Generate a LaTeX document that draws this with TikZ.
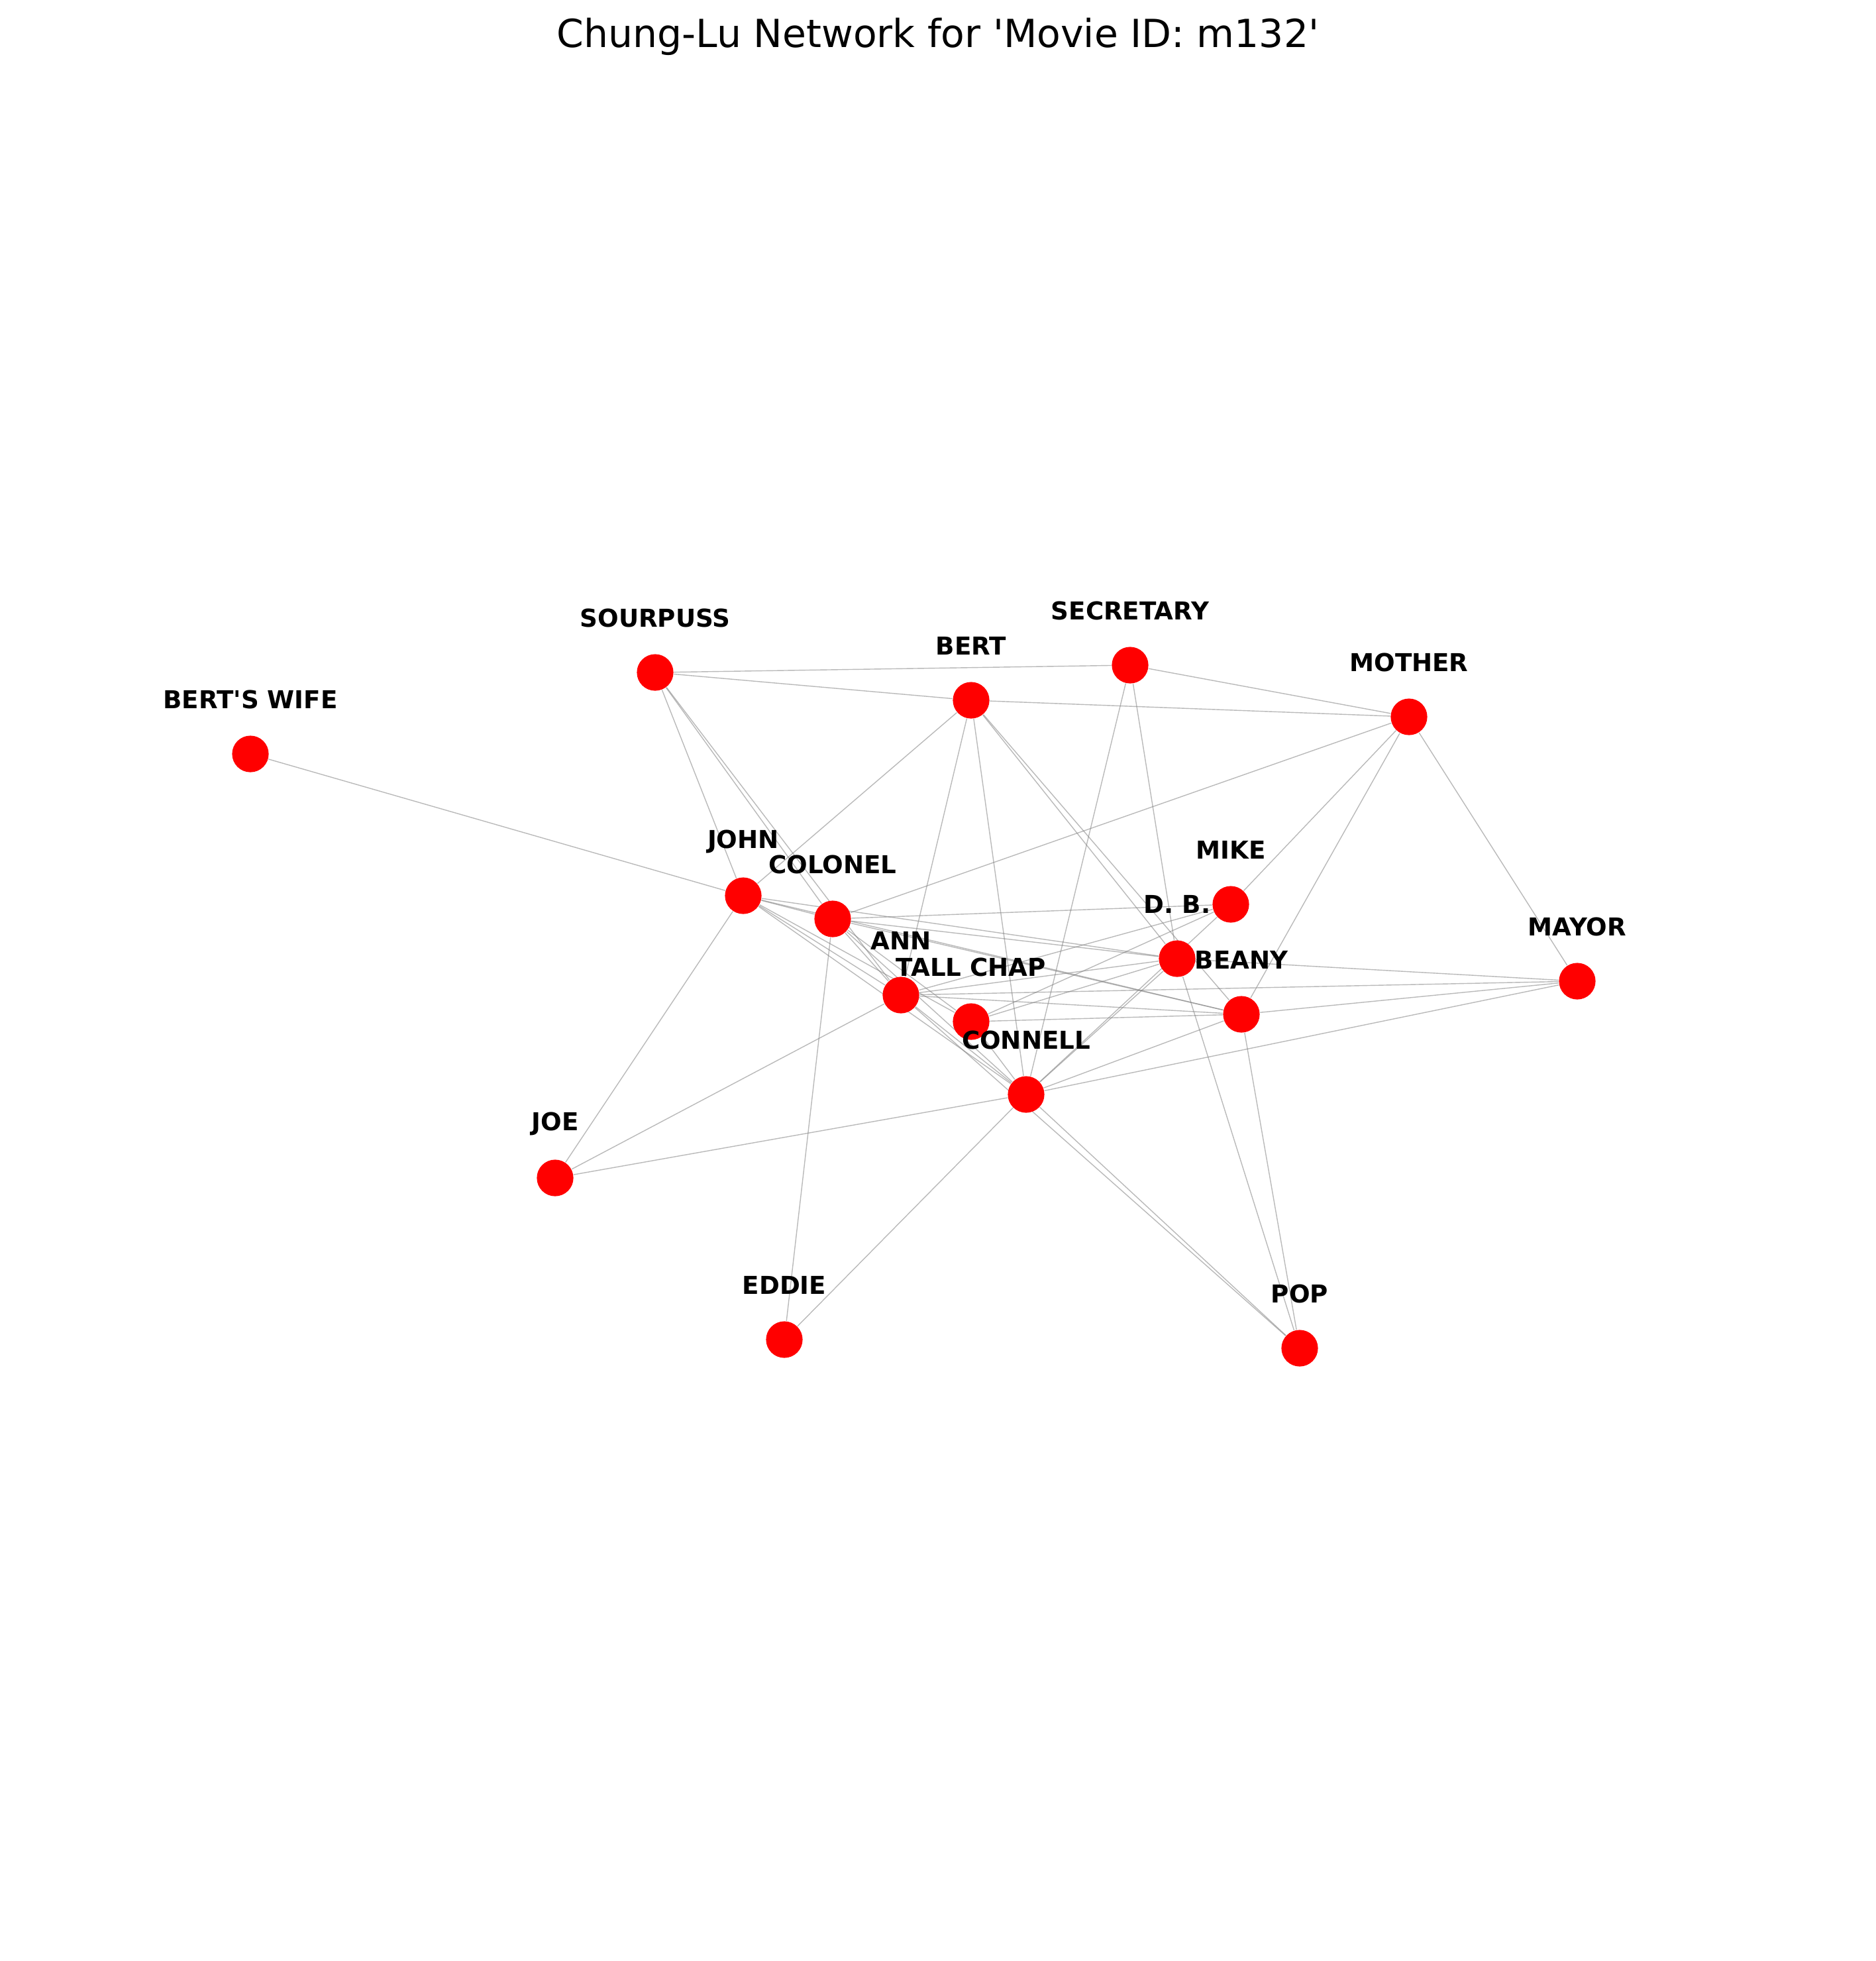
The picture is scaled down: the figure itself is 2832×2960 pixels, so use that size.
\documentclass[tikz,border=0pt]{standalone}
\usepackage{fontspec}
\setmainfont{DejaVu Sans}
\usetikzlibrary{backgrounds}

\begin{document}
\begin{tikzpicture}[x=0.25pt, y=-0.25pt,
        every node/.style={inner sep=0pt},
        actor/.style={circle, fill=red, minimum size=13.8pt},
        tag/.style={font=\fontsize{9.3}{11}\selectfont\bfseries, yshift=20.5pt},
        link/.style={draw=gray, opacity=0.55, line width=0.35pt}]
                \useasboundingbox (0,0) rectangle (2832,2960);

                % Title
                \node[font=\fontsize{14.6}{17}\selectfont] at (1416, 55) (title)
                    {Chung-Lu Network for \textquotesingle Movie ID: m132\textquotesingle};

                % Nodes
                \node[actor] at (378, 1138) (bw) {};
                \node[actor] at (989, 1015) (sour) {};
                \node[actor] at (1466, 1057) (bert) {};
                \node[actor] at (1706, 1004) (sec) {};
                \node[actor] at (2127, 1082) (mother) {};
                \node[actor] at (1122, 1352) (john) {};
                \node[actor] at (1257, 1387) (col) {};
                \node[actor] at (1858, 1365) (mike) {};
                \node[actor] at (1777, 1447) (db) {};
                \node[actor] at (2381, 1481) (mayor) {};
                \node[actor] at (1360, 1502) (ann) {};
                \node[actor] at (1466, 1542) (tc) {};
                \node[actor] at (1874, 1531) (beany) {};
                \node[actor] at (1549, 1652) (con) {};
                \node[actor] at (838, 1778) (joe) {};
                \node[actor] at (1184, 2022) (eddie) {};
                \node[actor] at (1962, 2035) (pop) {};

                % Edges
                \begin{scope}[on background layer]
                \draw[link] (sour) -- (sec);
                \draw[link] (sour) -- (bert);
                \draw[link] (sec) -- (mother);
                \draw[link] (bert) -- (mother);
                \draw[link] (sour) -- (john);
                \draw[link] (sour) -- (col);
                \draw[link] (sour) -- (ann);
                \draw[link] (bert) -- (john);
                \draw[link] (bert) -- (ann);
                \draw[link] (bert) -- (con);
                \draw[link] (bert) -- (db);
                \draw[link] (bert) -- (beany);
                \draw[link] (sec) -- (con);
                \draw[link] (sec) -- (db);
                \draw[link] (mother) -- (col);
                \draw[link] (mother) -- (mike);
                \draw[link] (mother) -- (beany);
                \draw[link] (mother) -- (mayor);
                \draw[link] (bw) -- (john);
                \draw[link] (john) -- (joe);
                \draw[link] (john) -- (col);
                \draw[link] (john) -- (db);
                \draw[link] (john) -- (beany);
                \draw[link] (john) -- (ann);
                \draw[link] (john) -- (tc);
                \draw[link] (john) -- (con);
                \draw[link] (col) -- (mike);
                \draw[link] (col) -- (db);
                \draw[link] (col) -- (beany);
                \draw[link] (col) -- (eddie);
                \draw[link] (col) -- (ann);
                \draw[link] (col) -- (tc);
                \draw[link] (col) -- (con);
                \draw[link] (ann) -- (mayor);
                \draw[link] (ann) -- (beany);
                \draw[link] (ann) -- (db);
                \draw[link] (ann) -- (mike);
                \draw[link] (ann) -- (joe);
                \draw[link] (ann) -- (con);
                \draw[link] (ann) -- (pop);
                \draw[link] (tc) -- (beany);
                \draw[link] (tc) -- (db);
                \draw[link] (tc) -- (mike);
                \draw[link] (tc) -- (con);
                \draw[link] (db) -- (mayor);
                \draw[link] (db) -- (pop);
                \draw[link] (beany) -- (mayor);
                \draw[link] (beany) -- (pop);
                \draw[link] (con) -- (beany);
                \draw[link] (con) -- (mayor);
                \draw[link] (con) -- (joe);
                \draw[link] (con) -- (eddie);
                \draw[link] (con) -- (pop);
                \draw[link] (con) -- (db);
                \draw[link] (con) -- (mike);
                \end{scope}

                % Labels
                \node[tag] at (bw) (bw-l) {BERT\textquotesingle S WIFE};
                \node[tag] at (sour) (sour-l) {SOURPUSS};
                \node[tag] at (bert) (bert-l) {BERT};
                \node[tag] at (sec) (sec-l) {SECRETARY};
                \node[tag] at (mother) (mother-l) {MOTHER};
                \node[tag] at (john) (john-l) {JOHN};
                \node[tag] at (col) (col-l) {COLONEL};
                \node[tag] at (mike) (mike-l) {MIKE};
                \node[tag] at (db) (db-l) {D. B.};
                \node[tag] at (mayor) (mayor-l) {MAYOR};
                \node[tag] at (ann) (ann-l) {ANN};
                \node[tag] at (tc) (tc-l) {TALL CHAP};
                \node[tag] at (beany) (beany-l) {BEANY};
                \node[tag] at (con) (con-l) {CONNELL};
                \node[tag] at (joe) (joe-l) {JOE};
                \node[tag] at (eddie) (eddie-l) {EDDIE};
                \node[tag] at (pop) (pop-l) {POP};
\end{tikzpicture}
\end{document}
